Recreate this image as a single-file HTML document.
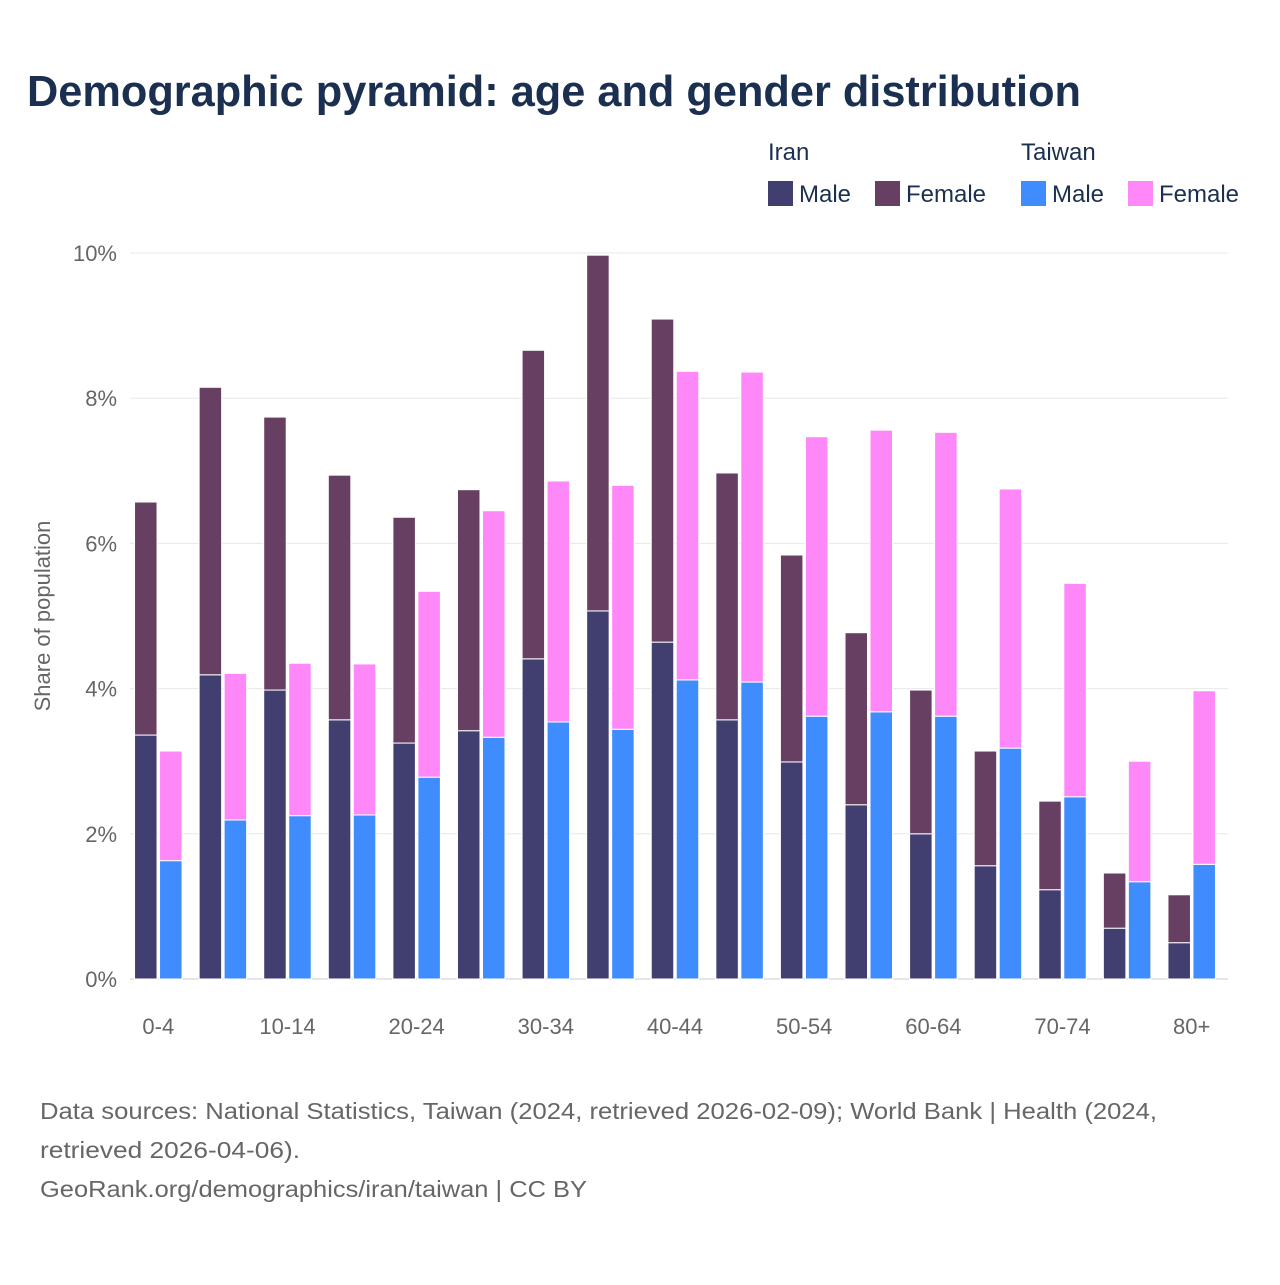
<!DOCTYPE html>
<html><head><meta charset="utf-8">
<style>
body{margin:0;background:#fff;width:1280px;height:1280px;overflow:hidden;font-family:"Liberation Sans",sans-serif;}
</style></head>
<body>
<svg id="chart" width="1280" height="1280" xmlns="http://www.w3.org/2000/svg" font-family="Liberation Sans, sans-serif">
<text x="27" y="106" font-size="44" font-weight="bold" fill="#1b3050" textLength="1054" lengthAdjust="spacingAndGlyphs">Demographic pyramid: age and gender distribution</text>
<g font-size="24" fill="#1b3050">
<text x="768" y="160">Iran</text>
<text x="1021" y="160">Taiwan</text>
<rect x="768" y="181" width="25" height="25" fill="#413e70"/>
<text x="799" y="202">Male</text>
<rect x="875" y="181" width="25" height="25" fill="#673f62"/>
<text x="906" y="202">Female</text>
<rect x="1021" y="181" width="25" height="25" fill="#3f8cfe"/>
<text x="1052" y="202">Male</text>
<rect x="1128" y="181" width="25" height="25" fill="#ff88f8"/>
<text x="1159" y="202">Female</text>
</g>
<text transform="translate(50,616) rotate(-90)" text-anchor="middle" font-size="22" fill="#666">Share of population</text>
<g id="grid"></g>
<g id="bars"></g>
<g id="xlabels"></g>
<g font-size="23" fill="#666">
<text x="40" y="1119" textLength="1117" lengthAdjust="spacingAndGlyphs">Data sources: National Statistics, Taiwan (2024, retrieved 2026-02-09); World Bank | Health (2024,</text>
<text x="40" y="1158" textLength="260" lengthAdjust="spacingAndGlyphs">retrieved 2026-04-06).</text>
<text x="40" y="1197" textLength="547" lengthAdjust="spacingAndGlyphs">GeoRank.org/demographics/iran/taiwan | CC BY</text>
</g>
</svg>
<script>
const categories=["0-4","5-9","10-14","15-19","20-24","25-29","30-34","35-39","40-44","45-49","50-54","55-59","60-64","65-69","70-74","75-79","80+"];
const iranMale=[3.36,4.19,3.98,3.57,3.25,3.42,4.41,5.07,4.64,3.57,2.99,2.40,2.00,1.56,1.23,0.70,0.50];
const iranFemale=[3.21,3.96,3.76,3.37,3.11,3.32,4.25,4.90,4.45,3.40,2.85,2.37,1.98,1.58,1.22,0.76,0.66];
const taiwanMale=[1.63,2.19,2.25,2.26,2.78,3.33,3.54,3.44,4.12,4.09,3.62,3.68,3.62,3.18,2.51,1.34,1.58];
const taiwanFemale=[1.51,2.02,2.10,2.08,2.56,3.12,3.32,3.36,4.25,4.27,3.85,3.88,3.91,3.57,2.94,1.66,2.39];
const yTicks=[0,2,4,6,8,10];
const xLabelIdx=[0,2,4,6,8,10,12,14,16];

const NS="http://www.w3.org/2000/svg";
const y0=979,pxPer=72.6,plotL=126,plotR=1224;
const gw=(plotR-plotL)/categories.length;
function ys(v){return y0-v*pxPer;}
function xc(i){return plotL+gw*(i+0.5);}
function mk(tag,attrs,parent){const e=document.createElementNS(NS,tag);for(const k in attrs)e.setAttribute(k,attrs[k]);parent.appendChild(e);return e;}
const grid=document.getElementById('grid'),bars=document.getElementById('bars'),xl=document.getElementById('xlabels');
yTicks.forEach(t=>{
  const l=mk('line',{x1:130,x2:1228,y1:ys(t),y2:ys(t),stroke:t===0?'#ccc':'#e8e8e8','stroke-width':1},grid);
  
  
  const tx=mk('text',{x:117,y:ys(t)+8,'text-anchor':'end','font-size':22,fill:'#666'},grid);
  tx.textContent=t+'%';
  
  
});
const bw=22.5;
function bar(x,v0,v1,fill,name){
  const r=mk('rect',{x:x,y:ys(v1),width:bw,height:ys(v0)-ys(v1),fill:fill,stroke:'#fff','stroke-width':1},bars);
  
  
}
categories.forEach((c,i)=>{
  const cx=xc(i);
  const xi=cx-bw-1.25,xt=cx+1.25;
  bar(xi,0,iranMale[i],'#413e70','bar-iran-male-'+c);
  bar(xi,iranMale[i],iranMale[i]+iranFemale[i],'#673f62','bar-iran-female-'+c);
  bar(xt,0,taiwanMale[i],'#3f8cfe','bar-taiwan-male-'+c);
  bar(xt,taiwanMale[i],taiwanMale[i]+taiwanFemale[i],'#ff88f8','bar-taiwan-female-'+c);
});
xLabelIdx.forEach(i=>{
  const t=mk('text',{x:xc(i),y:1034,'text-anchor':'middle','font-size':22,fill:'#666'},xl);
  t.textContent=categories[i];
  
  
});
</script>
</body></html>
